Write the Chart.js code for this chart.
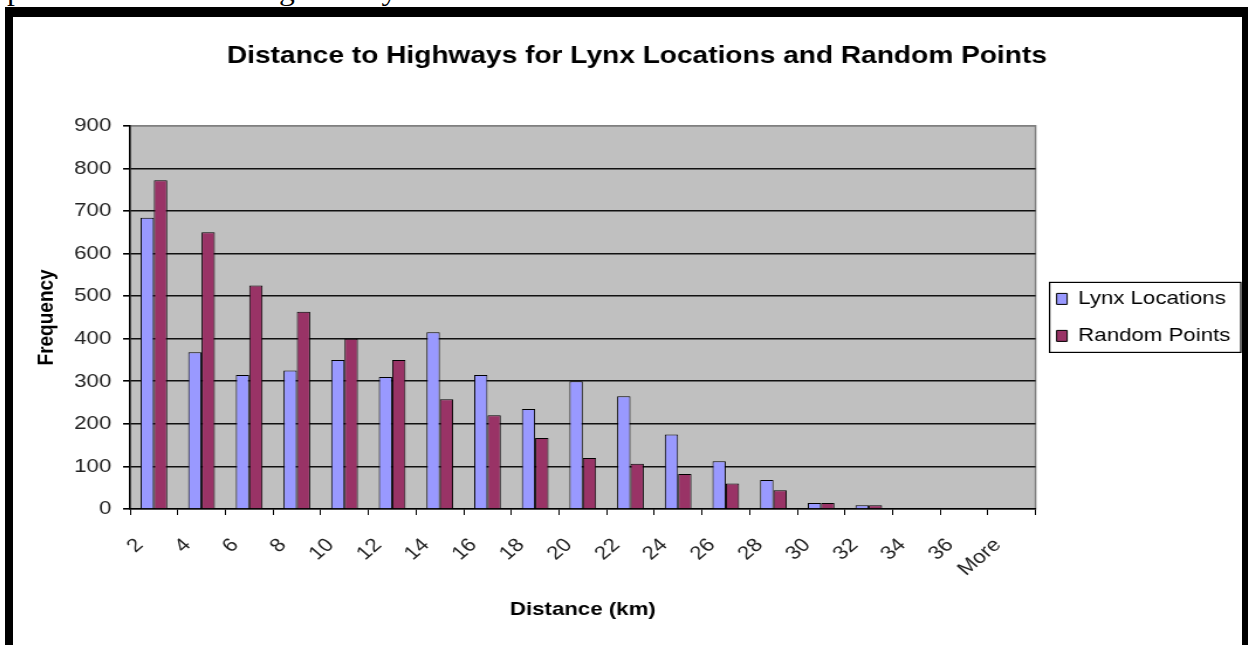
<!DOCTYPE html>
<html>
<head>
<meta charset="utf-8">
<script src="https://cdn.jsdelivr.net/npm/chart.js@4.4.1/dist/chart.umd.min.js"></script>
<style>
  html, body { margin: 0; padding: 0; background: #fff; width: 1249px; height: 645px; overflow: hidden; }
  .caption {
    position: absolute; left: 7px; top: -22px;
    font: 27px/27px "Liberation Serif", "Times New Roman", serif; color: #000;
    white-space: nowrap; transform: scaleX(1.17); transform-origin: 0 0;
  }
  .frame {
    position: absolute; left: 5px; top: 7px; width: 1229px; height: 640px;
    border-left: 8px solid #000; border-top: 10px solid #000; border-right: 6px solid #000;
    background: #fff;
  }
  .stretch {
    position: absolute; left: 0; top: 0; width: 1050px; height: 628px;
    transform: scaleX(1.1705); transform-origin: 0 0;
  }
</style>
</head>
<body>
<div class="caption">potential road crossing activity.</div>
<div class="frame"><div class="stretch"><canvas id="histChart"></canvas></div></div>

<script>
// histogram bins (km) and counts per bin
const distanceBins = ['2', '4', '6', '8', '10', '12', '14', '16', '18', '20',
                      '22', '24', '26', '28', '30', '32', '34', '36', 'More'];
const lynxLocations = [684, 368, 315, 325, 350, 310, 415, 315, 235, 300,
                       265, 175, 112, 68, 14, 9, 0, 0, 0];
const randomPoints  = [772, 650, 525, 463, 400, 350, 258, 220, 167, 120,
                       106, 82, 60, 44, 14, 9, 2, 0, 0];
const freqTicks = [0, 100, 200, 300, 400, 500, 600, 700, 800, 900];

Chart.defaults.font.family = '"Liberation Sans", Arial, sans-serif';
Chart.defaults.color = '#222';

// grey plot area with a thin border, like the old spreadsheet charts
const plotBackground = {
  id: 'plotBackground',
  beforeDraw(chart) {
    const { ctx, chartArea: a } = chart;
    ctx.save();
    ctx.fillStyle = '#c0c0c0';
    ctx.fillRect(a.left, a.top, a.width, a.height);
    ctx.strokeStyle = '#808080';
    ctx.lineWidth = 1.5;
    ctx.strokeRect(a.left, a.top, a.width, a.height);
    ctx.restore();
  }
};

// box round the legend entries
const legendFrame = {
  id: 'legendFrame',
  afterDraw(chart) {
    const boxes = chart.legend && chart.legend.legendHitBoxes;
    if (!boxes || !boxes.length) return;
    const left = Math.min(...boxes.map(b => b.left)) - 6;
    const right = Math.max(...boxes.map(b => b.left + b.width)) + 9;
    const top = boxes[0].top - 7;
    const last = boxes[boxes.length - 1];
    const bottom = last.top + last.height + 7;
    const ctx = chart.ctx;
    ctx.save();
    ctx.strokeStyle = '#000';
    ctx.lineWidth = 1.2;
    ctx.strokeRect(left, top, right - left, bottom - top);
    ctx.restore();
  }
};

const ctx = document.getElementById('histChart').getContext('2d');

new Chart(ctx, {
  type: 'bar',
  data: {
    labels: distanceBins,
    datasets: [
      {
        label: 'Lynx Locations',
        data: lynxLocations,
        backgroundColor: '#9999ff',
        borderColor: '#000',
        borderWidth: 1
      },
      {
        label: 'Random Points',
        data: randomPoints,
        backgroundColor: '#993366',
        borderColor: '#000',
        borderWidth: 1
      }
    ]
  },
  options: {
    responsive: true,
    maintainAspectRatio: false,
    animation: false,
    layout: { padding: { left: 16, right: 0, top: 0, bottom: 0 } },
    datasets: { bar: { categoryPercentage: 0.56, barPercentage: 1 } },
    plugins: {
      title: {
        display: true,
        text: 'Distance to Highways for Lynx Locations and Random Points',
        color: '#000',
        font: { size: 24, weight: 'bold' },
        padding: { top: 25, bottom: 55 }
      },
      legend: {
        position: 'right',
        fullSize: false,
        labels: {
          boxWidth: 9,
          boxHeight: 11,
          padding: 18,
          color: '#000',
          font: { size: 19 }
        }
      },
      tooltip: { enabled: false }
    },
    scales: {
      x: {
        grid: {
          drawOnChartArea: false,
          drawTicks: true,
          tickLength: 6,
          tickColor: '#000'
        },
        border: { display: true, color: '#000', width: 1.5 },
        ticks: {
          autoSkip: false,
          minRotation: 45,
          maxRotation: 45,
          padding: 19,
          labelOffset: -12,
          color: '#222',
          font: { size: 19 }
        },
        title: {
          display: true,
          text: 'Distance (km)',
          color: '#000',
          font: { size: 19, weight: 'bold', lineHeight: 1 },
          padding: { top: 0, bottom: 26 }
        },
        afterFit(scale) { scale.height = 136; }
      },
      y: {
        min: 0,
        max: 900,
        afterBuildTicks(scale) { scale.ticks = freqTicks.map(v => ({ value: v })); },
        grid: {
          color: c => c.tick.value === 900 ? '#808080' : (c.tick.value === 0 ? 'rgba(0,0,0,0)' : '#111'),
          lineWidth: 1.6,
          tickLength: 6,
          tickColor: '#000'
        },
        border: { display: true, color: '#000', width: 1.5 },
        ticks: {
          padding: 10,
          color: '#222',
          font: { size: 19 }
        },
        title: {
          display: true,
          text: 'Frequency',
          color: '#000',
          font: { size: 19, weight: 'bold', lineHeight: 1 },
          padding: { top: 3, bottom: 0 }
        },
        afterFit(scale) { scale.width = 84; }
      }
    }
  },
  plugins: [plotBackground, legendFrame]
});
</script>
</body>
</html>
